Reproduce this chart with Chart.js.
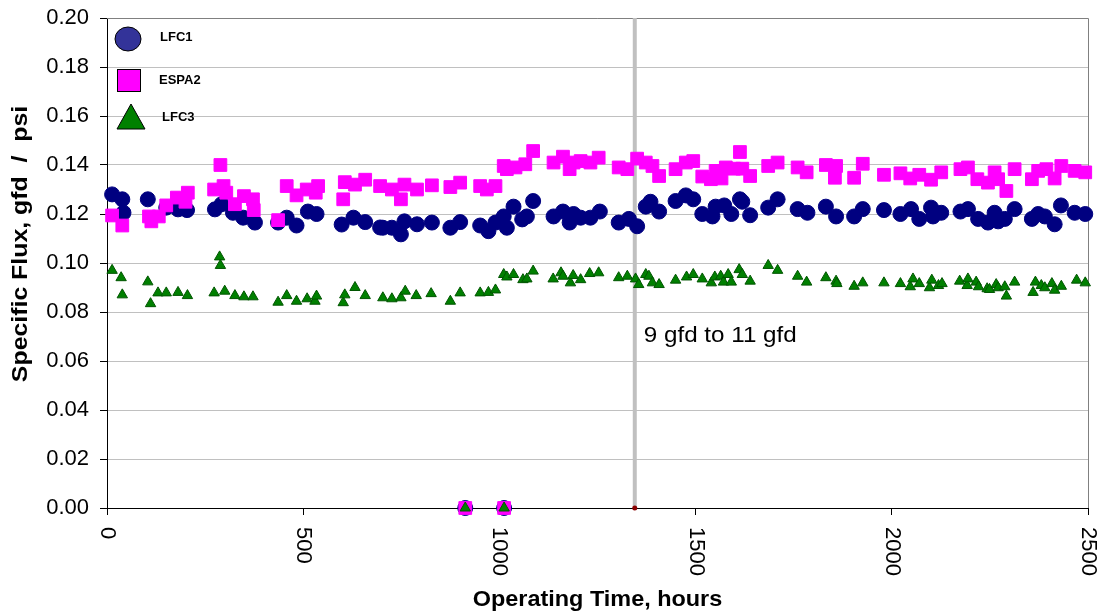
<!DOCTYPE html>
<html>
<head>
<meta charset="utf-8">
<script src="https://cdn.jsdelivr.net/npm/chart.js@4/dist/chart.umd.min.js"></script>
<style>
  html, body { margin: 0; padding: 0; background: #fff; }
  #wrap { width: 1101px; height: 616px; position: relative; }
</style>
</head>
<body>
<div id="wrap"><canvas id="chart"></canvas></div>
<script>
// operating time (hours) / specific flux (gfd/psi)
const lfc1Hours = [13,39,42,104,151,181,204,275,292,321,347,377,436,458,483,512,534,598,628,658,696,703,726,749,758,790,828,875,900,913,951,972,990,1011,1012,1019,1036,1058,1070,1086,1138,1162,1179,1189,1207,1232,1256,1304,1330,1351,1373,1385,1407,1449,1475,1494,1517,1543,1551,1573,1591,1613,1619,1639,1685,1709,1760,1785,1832,1858,1904,1926,1980,2022,2049,2070,2100,2105,2126,2175,2194,2220,2245,2262,2271,2288,2313,2357,2373,2390,2415,2431,2466,2493];
const lfc1Flux = [0.128,0.126,0.1205,0.126,0.1226,0.1219,0.1216,0.1219,0.124,0.1205,0.1185,0.1165,0.1165,0.1185,0.1153,0.121,0.120,0.1157,0.1185,0.1167,0.1145,0.1144,0.1144,0.1117,0.117,0.1158,0.1165,0.1144,0.1167,0,0.1153,0.113,0.1165,0.119,0,0.1144,0.123,0.1178,0.119,0.1253,0.119,0.121,0.1165,0.120,0.1185,0.1185,0.121,0.1165,0.118,0.115,0.123,0.125,0.121,0.1253,0.1276,0.126,0.120,0.119,0.123,0.1235,0.120,0.126,0.125,0.1195,0.1226,0.126,0.122,0.1205,0.123,0.119,0.119,0.122,0.1216,0.120,0.122,0.118,0.1226,0.119,0.1205,0.121,0.122,0.118,0.1165,0.1205,0.117,0.118,0.122,0.118,0.120,0.119,0.1158,0.1235,0.1205,0.120];

const espa2Hours = [13,39,107,113,132,151,178,200,206,273,289,297,304,326,349,372,374,436,458,483,509,532,538,602,606,632,658,696,726,749,758,790,828,875,900,913,951,968,990,1011,1012,1019,1041,1066,1086,1138,1162,1179,1189,1207,1232,1253,1304,1326,1351,1373,1390,1407,1449,1475,1494,1517,1539,1551,1566,1577,1598,1613,1619,1639,1685,1709,1760,1783,1832,1855,1858,1904,1926,1980,2022,2047,2070,2100,2126,2175,2194,2218,2245,2262,2271,2292,2313,2357,2373,2394,2415,2432,2466,2493];
const espa2Flux = [0.1194,0.1153,0.119,0.117,0.119,0.1235,0.1267,0.125,0.1287,0.130,0.140,0.1314,0.1287,0.124,0.1273,0.126,0.1216,0.1175,0.1314,0.1276,0.130,0.1287,0.1314,0.126,0.133,0.132,0.134,0.1314,0.130,0.126,0.132,0.130,0.1317,0.131,0.1328,0,0.1314,0.130,0.1314,0.1396,0,0.1383,0.139,0.1403,0.1457,0.141,0.1434,0.1383,0.141,0.1416,0.141,0.143,0.139,0.1383,0.1426,0.141,0.1396,0.1355,0.1383,0.141,0.1416,0.1353,0.1342,0.1376,0.1345,0.139,0.1385,0.1453,0.1385,0.1355,0.1396,0.141,0.139,0.137,0.140,0.1348,0.1396,0.1348,0.1405,0.136,0.1366,0.1345,0.136,0.134,0.137,0.1383,0.139,0.1342,0.1328,0.137,0.1342,0.1294,0.1383,0.1342,0.1376,0.1383,0.1345,0.1396,0.1376,0.137];

const lfc3Hours = [13,36,39,104,111,130,151,181,205,273,287,289,300,326,349,372,436,458,483,510,530,534,602,606,632,658,703,726,749,760,788,826,875,900,913,951,972,990,1011,1012,1019,1036,1060,1070,1086,1137,1157,1162,1181,1188,1207,1230,1253,1304,1326,1347,1355,1373,1381,1390,1407,1449,1477,1494,1517,1540,1549,1564,1571,1583,1591,1611,1619,1639,1685,1709,1760,1783,1832,1858,1860,1904,1926,1980,2022,2047,2054,2070,2096,2102,2119,2128,2173,2192,2194,2215,2221,2243,2249,2266,2271,2288,2292,2313,2360,2366,2381,2390,2408,2415,2432,2471,2493];
const lfc3Flux = [0.097,0.094,0.087,0.0923,0.0834,0.0878,0.0878,0.088,0.0867,0.0878,0.1025,0.099,0.0885,0.0867,0.0862,0.0862,0.084,0.0867,0.0844,0.0854,0.0844,0.0865,0.0838,0.087,0.090,0.0867,0.0858,0.0854,0.0858,0.0885,0.0867,0.0875,0.0844,0.0878,0,0.0878,0.088,0.089,0.0953,0,0.0943,0.0953,0.0932,0.0935,0.0967,0.0935,0.096,0.0946,0.0919,0.0949,0.0932,0.0957,0.096,0.094,0.0946,0.0935,0.0912,0.0953,0.0946,0.0919,0.0912,0.093,0.0943,0.0953,0.0935,0.0919,0.0943,0.0946,0.0922,0.0953,0.0922,0.0973,0.0953,0.0926,0.099,0.097,0.0946,0.0922,0.094,0.0926,0.0916,0.0905,0.0919,0.0919,0.0916,0.0903,0.0935,0.0916,0.0899,0.093,0.0908,0.0916,0.0926,0.0908,0.0935,0.0922,0.0903,0.0895,0.0892,0.0912,0.0899,0.0903,0.0865,0.0922,0.088,0.0922,0.0908,0.0899,0.0916,0.0889,0.0905,0.093,0.0919];

// flux change marker
const changeHours = 1345;
const changeLabel = "9 gfd to 11 gfd";

const xTicks = [0, 500, 1000, 1500, 2000, 2500];
const yTicks = [0, 0.02, 0.04, 0.06, 0.08, 0.10, 0.12, 0.14, 0.16, 0.18, 0.20];

const seriesNames = ["LFC1", "ESPA2", "LFC3"];

function toPoints(xs, ys) {
  return xs.map((x, i) => ({ x, y: ys[i] }));
}

// text in the original is a bit wider than Arial, stretch it a little
function wideText(ctx, text, x, y, sx) {
  ctx.save();
  ctx.translate(x, y);
  ctx.scale(sx, 1);
  ctx.fillText(text, 0, 0);
  ctx.restore();
}

// labels, titles, legend and the plot border drawn like the Excel original
const excelDecor = {
  id: "excelDecor",
  beforeDatasetsDraw(chart) {
    const { ctx, chartArea: a } = chart;
    ctx.save();
    ctx.strokeStyle = "#808080";
    ctx.lineWidth = 1;
    ctx.beginPath();
    ctx.moveTo(a.left, a.top + 0.5);
    ctx.lineTo(a.right + 0.5, a.top + 0.5);
    ctx.lineTo(a.right + 0.5, a.bottom);
    ctx.stroke();
    ctx.restore();
  },
  afterDraw(chart) {
    const { ctx, chartArea: a } = chart;
    const xs = chart.scales.x, ys = chart.scales.y;
    ctx.save();
    ctx.fillStyle = "#000";

    // rotated x tick labels (reading top to bottom)
    ctx.font = '22px "Liberation Sans", Arial, sans-serif';
    ctx.textAlign = "left";
    ctx.textBaseline = "middle";
    xTicks.forEach(v => {
      ctx.save();
      ctx.translate(xs.getPixelForValue(v), a.bottom + 19);
      ctx.rotate(Math.PI / 2);
      ctx.fillText(String(v), 0, 0);
      ctx.restore();
    });

    // axis titles
    ctx.font = 'bold 22px "Liberation Sans", Arial, sans-serif';
    ctx.textAlign = "center";
    wideText(ctx, "Operating Time, hours", (a.left + a.right) / 2, 600, 1.065);
    ctx.save();
    ctx.translate(21, 244);
    ctx.rotate(-Math.PI / 2);
    wideText(ctx, "Specific Flux, gfd  /  psi", 0, 0, 1.13);
    ctx.restore();

    // annotation next to the grey line
    ctx.font = '22px "Liberation Sans", Arial, sans-serif';
    ctx.textAlign = "left";
    wideText(ctx, changeLabel, xs.getPixelForValue(changeHours) + 9, ys.getPixelForValue(0.0704), 1.1);

    // legend inside the plot
    ctx.lineWidth = 1;
    ctx.strokeStyle = "#000";
    ctx.fillStyle = "#333399";
    ctx.beginPath();
    ctx.ellipse(128, 39, 13, 12, 0, 0, Math.PI * 2);
    ctx.fill(); ctx.stroke();
    ctx.fillStyle = "#ff00ff";
    ctx.fillRect(117, 69, 23, 22);
    ctx.strokeRect(117.5, 69.5, 23, 22);
    ctx.fillStyle = "#008000";
    ctx.beginPath();
    ctx.moveTo(131, 104);
    ctx.lineTo(145, 129);
    ctx.lineTo(117, 129);
    ctx.closePath();
    ctx.fill(); ctx.stroke();

    ctx.fillStyle = "#000";
    ctx.font = 'bold 13px "Liberation Sans", Arial, sans-serif';
    ctx.textAlign = "left";
    ctx.fillText(seriesNames[0], 160, 37);
    ctx.fillText(seriesNames[1], 159, 80);
    ctx.fillText(seriesNames[2], 162, 117);
    ctx.restore();
  }
};

new Chart(document.getElementById("chart"), {
  type: "scatter",
  data: {
    datasets: [
      {
        label: "change",
        type: "line",
        data: [{ x: changeHours, y: 0 }, { x: changeHours, y: 0.2 }],
        borderColor: "#c0c0c0",
        borderWidth: 4,
        pointRadius: [2.5, 0],
        pointBackgroundColor: "#8b0000",
        pointBorderColor: "#8b0000",
        pointBorderWidth: 0,
        order: 4,
        clip: false
      },
      {
        label: seriesNames[0],
        data: toPoints(lfc1Hours, lfc1Flux),
        pointStyle: "circle",
        pointRadius: 7.5,
        backgroundColor: "#000080",
        borderColor: "#000080",
        borderWidth: 1,
        order: 3,
        clip: false
      },
      {
        label: seriesNames[1],
        data: toPoints(espa2Hours, espa2Flux),
        pointStyle: "rect",
        pointRadius: 9,
        backgroundColor: "#ff00ff",
        borderColor: "#ff00ff",
        borderWidth: 1,
        order: 2,
        clip: false
      },
      {
        label: seriesNames[2],
        data: toPoints(lfc3Hours, lfc3Flux),
        pointStyle: "triangle",
        pointRadius: 6,
        backgroundColor: "#008000",
        borderColor: "#005500",
        borderWidth: 1,
        order: 1,
        clip: false
      }
    ]
  },
  options: {
    responsive: true,
    maintainAspectRatio: false,
    animation: false,
    layout: { padding: { top: 18, right: 13, left: 0, bottom: 0 } },
    plugins: {
      legend: { display: false },
      tooltip: { enabled: false }
    },
    elements: { point: { hoverRadius: 8 } },
    scales: {
      x: {
        type: "linear",
        min: 0,
        max: 2500,
        afterBuildTicks: s => { s.ticks = xTicks.map(v => ({ value: v })); },
        ticks: { display: false },
        grid: { drawOnChartArea: false, drawTicks: true, tickLength: 7, color: "#000" },
        border: { color: "#000", width: 1 },
        afterFit: s => { s.height = 108; s.paddingLeft = 0; s.paddingRight = 0; }
      },
      y: {
        min: 0,
        max: 0.2,
        afterBuildTicks: s => { s.ticks = yTicks.map(v => ({ value: v })); },
        ticks: {
          padding: 11,
          color: "#000",
          font: { family: '"Liberation Sans", Arial, sans-serif', size: 22 },
          callback: v => Number(v).toFixed(2)
        },
        grid: { color: "#c0c0c0", tickColor: "#000", tickLength: 7, lineWidth: 1 },
        border: { color: "#000", width: 1 },
        afterFit: s => { s.width = 107; s.paddingTop = 0; s.paddingBottom = 0; }
      }
    }
  },
  plugins: [excelDecor]
});
</script>
</body>
</html>
